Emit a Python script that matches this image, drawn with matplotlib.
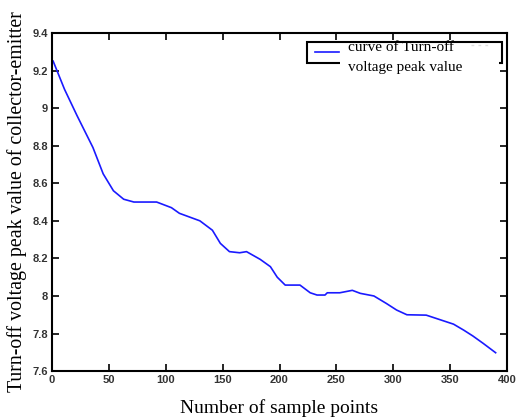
import matplotlib.pyplot as plt
from matplotlib.patches import Rectangle

# sample index and turn-off voltage peak value
samples = [1, 11, 22, 36, 45, 54, 63, 72, 92, 105, 112, 130, 141, 148, 156, 165, 171,
           183, 192, 198, 205, 218, 227, 233, 240, 242, 253, 264, 271, 283, 294, 303,
           312, 329, 338, 353, 362, 370, 379, 390]
peak_value = [9.25, 9.10, 8.96, 8.79, 8.65, 8.56, 8.515, 8.50, 8.50, 8.47, 8.44, 8.40,
              8.35, 8.28, 8.236, 8.23, 8.236, 8.195, 8.156, 8.10, 8.058, 8.058, 8.017,
              8.005, 8.005, 8.017, 8.017, 8.03, 8.014, 8.0, 7.96, 7.925, 7.90, 7.898,
              7.88, 7.85, 7.818, 7.787, 7.748, 7.698]

x_ticks = [0, 50, 100, 150, 200, 250, 300, 350, 400]
y_ticks = [7.6, 7.8, 8, 8.2, 8.4, 8.6, 8.8, 9, 9.2, 9.4]
y_labels = ['7.6', '7.8', '8', '8.2', '8.4', '8.6', '8.8', '9', '9.2', '9.4']

fig = plt.figure(figsize=(5.2, 4.17), dpi=100)
ax = fig.add_axes([0.1, 0.11, 0.875, 0.811])

ax.plot(samples, peak_value, color='#1a1aff', linewidth=1.2)

ax.set_xlim(0, 400)
ax.set_ylim(7.6, 9.4)
ax.set_xticks(x_ticks)
ax.set_yticks(y_ticks)
ax.set_yticklabels(y_labels)
ax.tick_params(direction='in', length=5, width=1.2, top=True, right=True,
               labelsize=8, labelcolor='#333333', pad=3)
for lab in ax.get_xticklabels() + ax.get_yticklabels():
    lab.set_fontweight('bold')
    lab.set_family('Liberation Sans')
for s in ax.spines.values():
    s.set_linewidth(1.5)

ax.set_xlabel('Number of sample points', family='Liberation Serif', fontsize=14, labelpad=10)
ax.set_ylabel('Turn-off voltage peak value of collector-emitter', family='Liberation Serif',
              fontsize=14.3, labelpad=4)

# hand-made legend box (bottom edge partly hidden by the second text line)
ax.add_patch(Rectangle((0.560, 0.911), 0.429, 0.062, transform=ax.transAxes,
                       fill=False, edgecolor='black', linewidth=1.5, zorder=5))
ax.plot([0.578, 0.631], [0.944, 0.944], transform=ax.transAxes, color='#1a1aff',
        linewidth=1.2, zorder=6)
ax.plot([0.92, 0.965], [0.965, 0.965], transform=ax.transAxes, color='#dddddd',
        linewidth=1, linestyle=(0, (2, 3)), zorder=6)
ax.text(0.651, 0.958, 'curve of Turn-off', transform=ax.transAxes, va='center', ha='left',
        family='Liberation Serif', fontsize=11, zorder=7)
ax.text(0.651, 0.898, 'voltage peak value', transform=ax.transAxes, va='center', ha='left',
        family='Liberation Serif', fontsize=11, zorder=7)
ax.add_patch(Rectangle((0.633, 0.905), 0.35, 0.012, transform=ax.transAxes,
                       facecolor='white', edgecolor='none', zorder=6))

fig.savefig('out.png', dpi=100)
